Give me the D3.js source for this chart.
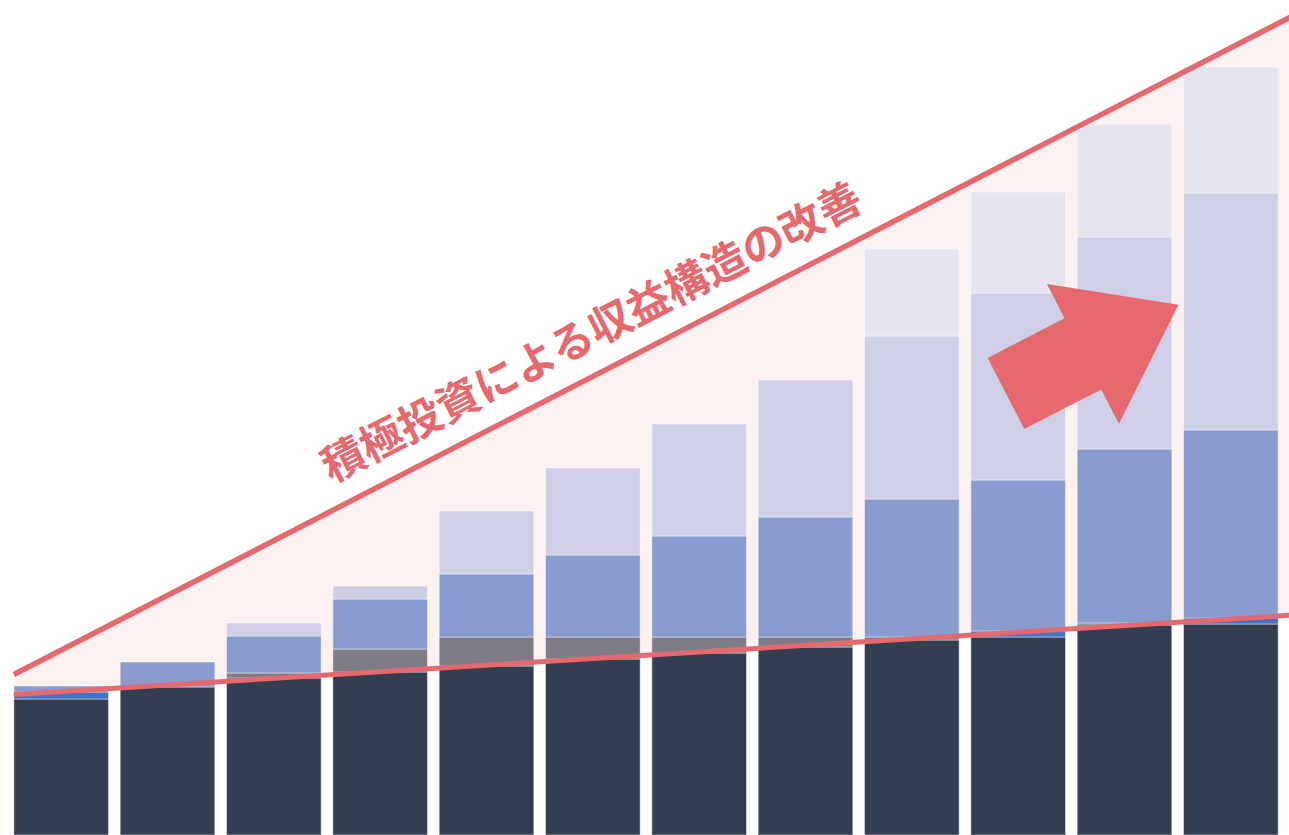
<!DOCTYPE html>
<html><head><meta charset="utf-8">
<script src="https://cdn.jsdelivr.net/npm/d3@7"></script>
<style>html,body{margin:0;padding:0;background:#fff;overflow:hidden} svg{display:block}</style>
</head><body><svg id="chart" width="1289" height="835"></svg>
<script>
// ---- data ----
const categories = ["P1","P2","P3","P4","P5","P6","P7","P8","P9","P10","P11","P12"];
const seriesKeys = ["core","blue","gray","mid","lavender","light"];
const core     = [136,148,157,163,169,176,182,188,195,198,210,211];
const blue     = [7,0,0,0,0,0,0,0,0,6,0,6];
const gray     = [0,0,5,23,29,22,16,10,3,0,2,0];
const mid      = [6,25,37,50,63,82,101,120,138,151,174,188];
const lavender = [0,0,13,13,63,87,112,137,163,187,212,237];
const light    = [0,0,0,0,0,0,0,0,87,101,113,126];
// trend lines: value at first bar's left edge, value at last bar's right edge
const trendLow  = [140.5, 219];
const trendHigh = [160.5, 811.5];
const headline = "積極投資による収益構造の改善";

// ---- styles ----
const colors = {core:"#333f50", blue:"#4472c4", gray:"#7f7c88", mid:"#8a9ccf", lavender:"#cfd0e6", light:"#e6e5ef"};
const red = "#e5696f", pink = "#fcf1f1";
const W = 1289, H = 835;

const svg = d3.select("#chart");
const table = categories.map((c,i)=>({cat:c, core:core[i], blue:blue[i], gray:gray[i], mid:mid[i], lavender:lavender[i], light:light[i]}));
const stacked = d3.stack().keys(seriesKeys)(table);

const x = d3.scaleBand().domain(categories).range([8,1284]).paddingInner(0.11).paddingOuter(0.055);
const y = d3.scaleLinear().domain([0,835]).range([H,0]);

const x0 = x(categories[0]);
const x1 = x(categories[categories.length-1]) + x.bandwidth();
const xEnd = W + 20;
function lineAt(t, px){ return t[0] + (t[1]-t[0])*(px-x0)/(x1-x0); }

// pink band between the two trend lines
const area = [
  [x0, y(lineAt(trendLow,x0))],
  [xEnd, y(lineAt(trendLow,xEnd))],
  [xEnd, y(lineAt(trendHigh,xEnd))],
  [x0, y(lineAt(trendHigh,x0))]
];
svg.append("path").attr("d", d3.line()(area) + "Z").attr("fill", pink);

// bars
const g = svg.append("g");
stacked.forEach(s=>{
  g.selectAll(null).data(s.filter(d=>d[1]-d[0]>0)).join("rect")
    .attr("x", d=>x(d.data.cat))
    .attr("width", x.bandwidth())
    .attr("y", d=>y(d[1]))
    .attr("height", d=>y(d[0])-y(d[1]))
    .attr("fill", colors[s.key])
    .attr("stroke", "rgba(255,255,255,0.45)")
    .attr("stroke-width", 1);
});

// trend lines
[[trendLow,5],[trendHigh,5.5]].forEach(([t,sw])=>{
  svg.append("line")
    .attr("x1", x0).attr("y1", y(lineAt(t,x0)))
    .attr("x2", xEnd).attr("y2", y(lineAt(t,xEnd)))
    .attr("stroke", red).attr("stroke-width", sw);
});

// angle of upper line
const ang = Math.atan2(y(lineAt(trendHigh,x1)) - y(lineAt(trendHigh,x0)), x1-x0) * 180/Math.PI;

// headline text
svg.append("text")
  .attr("transform", `translate(591.5,332) rotate(${ang})`)
  .attr("text-anchor","middle")
  .attr("dy","0.36em")
  .attr("fill", red)
  .attr("font-family", "'Noto Sans CJK JP','Noto Sans CJK SC',sans-serif")
  .attr("font-weight", 700)
  .attr("font-size", 43)
  .text(headline);

// arrow
const arrowShape = [[0,-40],[86.5,-40],[86.5,-78.7],[194,0],[86.5,78.7],[86.5,40],[0,40]];
svg.append("path")
  .attr("transform", `translate(1006,393.5) rotate(${ang})`)
  .attr("d", d3.line()(arrowShape) + "Z")
  .attr("fill", red);
</script>
</body></html>
